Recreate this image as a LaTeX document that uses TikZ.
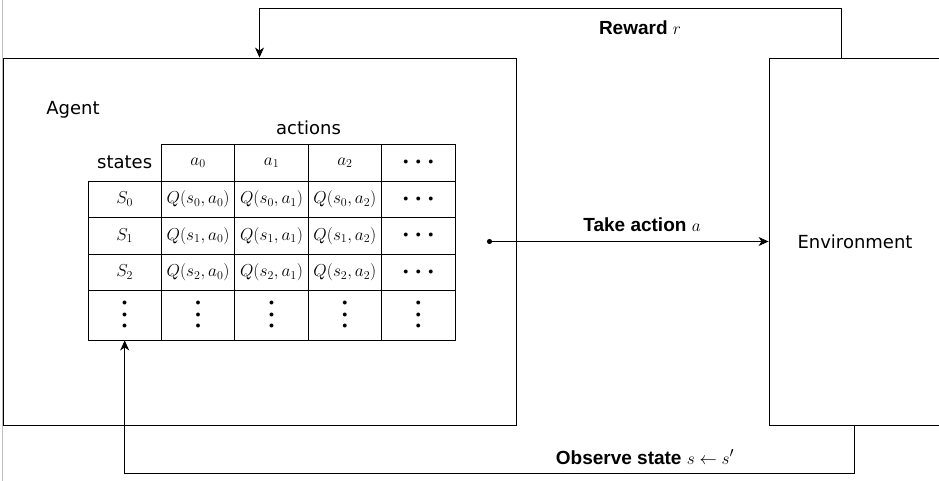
\documentclass[tikz,border=0pt]{standalone}
\usepackage{fontspec}
\setmainfont{Liberation Sans}
\newfontfamily\handfont{DejaVu Sans}
\usetikzlibrary{arrows.meta}
\newcommand\dotmark{$\scriptscriptstyle\bullet$}
\newcommand\rowdots{\dotmark\kern7.5pt\dotmark\kern7.5pt\dotmark}
\newcommand\coldots{\vbox{\baselineskip=11.5pt\lineskiplimit=-100pt\hbox{\dotmark}\hbox{\dotmark}\hbox{\dotmark}}}
\begin{document}
\begin{tikzpicture}[x=1pt,y=-1pt,
  cell/.style={draw,line width=0.9pt,minimum width=73.4pt,minimum height=36.5pt,inner sep=0pt,font=\fontsize{17.28}{20}\selectfont},
  box/.style={draw,line width=0.9pt,inner sep=0pt},
  tag/.style={font=\fontsize{18}{21}\selectfont\handfont},
  lab/.style={font=\fontsize{19}{22}\selectfont\bfseries},
  flow/.style={line width=0.9pt,-{Stealth[length=10pt,width=9pt,inset=3pt]}}]
\fill[white] (0,0) rectangle (939,481);
\useasboundingbox (0,0) rectangle (939,481);
\draw[black!25,line width=1pt] (2,0) -- (2,481);
\node[box,minimum width=513pt,minimum height=367pt] (agent) at (259.5,241.5) {};
\node[box,tag,minimum width=172pt,minimum height=367pt] (env) at (855,241.5) {Environment};
\node[tag] (agentlab) at (73,110) {Agent};
\node[tag] (acts) at (308.5,128) {actions};
\node[tag] (states) at (124.7,162.75) {states};
\foreach \c/\a in {1/$a_0$,2/$a_1$,3/$a_2$,4/\rowdots}
  \node[cell] (h\c) at ({124.7+73.4*\c},162.75) {\a};
\foreach \r in {0,1,2} {
  \node[cell] (s\r) at (124.7,{199.25+36.5*\r}) {$S_\r$};
  \foreach \c in {0,1,2}
    \node[cell] (q\r\c) at ({198.1+73.4*\c},{199.25+36.5*\r}) {$Q(s_\r,a_\c)$};
  \node[cell] (d\r) at (418.3,{199.25+36.5*\r}) {\rowdots};
}
\foreach \c in {0,...,4}
  \node[cell,minimum height=49.5pt] (v\c) at ({124.7+73.4*\c},315.25) {\coldots};
\draw[flow] ([xshift=73pt]env.north west) -- ++(0,-49) -| (agent.north);
\node[lab] (rew) at (640,28) {Reward $r$};
\coordinate (act) at (487,241.5);
\draw[line width=0.9pt,{Circle[length=5pt]}-{Stealth[length=10pt,width=9pt,inset=3pt]}] (act) -- (env.west);
\node[lab] (take) at (642,225) {Take action $a$};
\draw[flow] ([xshift=86pt]env.south west) -- ++(0,48) -| (v0.south);
\node[lab] (obs) at (645,457) {Observe state $s \leftarrow s'$};
\end{tikzpicture}
\end{document}
